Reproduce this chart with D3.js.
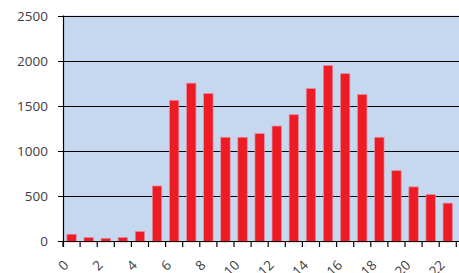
<!DOCTYPE html>
<html>
<head>
<meta charset="utf-8">
<script src="https://cdn.jsdelivr.net/npm/d3@7"></script>
<style>
  body { margin: 0; background: #fff; }
  text { font-family: "Open Sans", sans-serif; fill: #404040; }
</style>
</head>
<body>
<svg id="chart"></svg>
<script>
// Data
const hours = d3.range(0, 23);
const counts = [75, 40, 30, 40, 105, 610, 1560, 1750, 1635, 1150, 1150, 1190, 1275,
                1400, 1690, 1945, 1855, 1625, 1150, 780, 600, 515, 420];
const yTicks = [0, 500, 1000, 1500, 2000, 2500];

const width = 459, height = 273;
const plotLeft = 63, plotRight = 456.3, plotTop = 15.5, plotBottom = 241;

const svg = d3.select("#chart")
    .attr("width", width)
    .attr("height", height);

const x = d3.scaleBand()
    .domain(hours)
    .range([plotLeft, plotRight])
    .paddingInner(0.45)
    .paddingOuter(0.225);

const y = d3.scaleLinear()
    .domain([0, 2500])
    .range([plotBottom, plotTop]);

// plot background
svg.append("rect")
    .attr("x", plotLeft)
    .attr("y", plotTop)
    .attr("width", width - plotLeft)
    .attr("height", plotBottom - plotTop)
    .attr("fill", "#c6d8f0");

// gridlines
svg.selectAll(".grid")
    .data(yTicks.filter(d => d > 0))
    .enter()
    .append("line")
    .attr("x1", plotLeft - 5)
    .attr("x2", width)
    .attr("y1", d => Math.round(y(d)) + 0.5)
    .attr("y2", d => Math.round(y(d)) + 0.5)
    .attr("stroke", "#000")
    .attr("stroke-width", 1.2);

// bars
svg.selectAll(".bar")
    .data(counts)
    .enter()
    .append("rect")
    .attr("x", (d, i) => x(hours[i]))
    .attr("y", d => y(d))
    .attr("width", x.bandwidth())
    .attr("height", d => plotBottom - y(d) + 1)
    .attr("fill", "#ed1c24")
    .attr("stroke", "#e58ea4")
    .attr("stroke-width", 0.7);

// y axis
svg.append("line")
    .attr("x1", plotLeft + 0.5).attr("x2", plotLeft + 0.5)
    .attr("y1", plotTop).attr("y2", plotBottom + 6)
    .attr("stroke", "#000").attr("stroke-width", 1.2);

svg.selectAll(".ylab")
    .data(yTicks)
    .enter()
    .append("text")
    .attr("x", 48)
    .attr("y", d => y(d) + 5)
    .attr("text-anchor", "end")
    .attr("font-size", "13.5px")
    .text(d => d);

// x axis
const xAxisY = Math.round(plotBottom) + 0.5;
svg.append("line")
    .attr("x1", plotLeft - 5).attr("x2", width)
    .attr("y1", xAxisY).attr("y2", xAxisY)
    .attr("stroke", "#000").attr("stroke-width", 1.2);

const step = x.step();
svg.selectAll(".xtick")
    .data(d3.range(0, 24))
    .enter()
    .append("line")
    .attr("x1", i => plotLeft + i * step)
    .attr("x2", i => plotLeft + i * step)
    .attr("y1", xAxisY)
    .attr("y2", xAxisY + 5.5)
    .attr("stroke", "#000")
    .attr("stroke-width", 1.2);

svg.selectAll(".xlab")
    .data(hours.filter(h => h % 2 === 0))
    .enter()
    .append("text")
    .attr("text-anchor", "end")
    .attr("font-size", "13.5px")
    .attr("transform", h => `translate(${x(h) + x.bandwidth() / 2 - 2}, 266) rotate(-45)`)
    .text(h => h);
</script>
</body>
</html>
